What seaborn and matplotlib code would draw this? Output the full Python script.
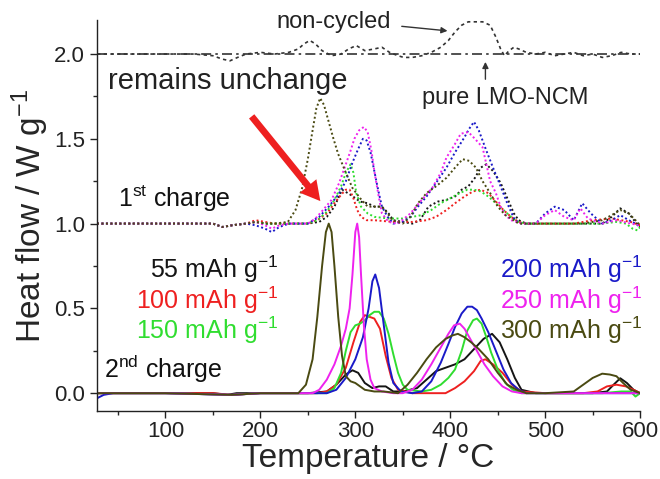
import numpy as np
import pandas as pd
import matplotlib
matplotlib.use("Agg")
import matplotlib.pyplot as plt
from matplotlib.ticker import MultipleLocator, FormatStrFormatter
import seaborn as sns

# ---------------- data ----------------
# 2nd charge (solid lines, baseline 0)
black2_T = [28, 60, 100, 150, 165, 175, 200, 250, 270, 280, 290, 297, 303, 310, 318, 325, 332, 340, 350, 365, 375, 385, 395, 405, 415, 425, 435, 444, 452, 460, 468, 475, 490, 520, 550, 565, 572, 579, 586, 593, 600]
black2_V = [0, 0, 0, 0, -0.01, 0, 0, 0, 0.01, 0.05, 0.11, 0.135, 0.12, 0.06, 0.03, 0.04, 0.04, 0.01, 0.01, 0.03, 0.08, 0.13, 0.15, 0.17, 0.2, 0.26, 0.32, 0.35, 0.3, 0.2, 0.09, 0.02, 0, 0, 0, 0.01, 0.05, 0.088, 0.06, 0.02, 0]

red2_T = [28, 100, 150, 170, 200, 260, 270, 280, 290, 298, 305, 310, 315, 320, 326, 332, 338, 345, 360, 380, 395, 405, 415, 425, 432, 437, 445, 455, 465, 475, 500, 540, 555, 565, 575, 585, 593, 600]
red2_V = [0, 0, 0, -0.01, 0, 0, 0.01, 0.05, 0.15, 0.3, 0.42, 0.46, 0.45, 0.44, 0.38, 0.22, 0.09, 0.02, 0, 0, 0, 0.03, 0.07, 0.13, 0.19, 0.2, 0.17, 0.12, 0.05, 0.01, 0, 0, 0.01, 0.04, 0.05, 0.04, 0.02, 0]

green2_T = [28, 100, 170, 200, 270, 278, 285, 290, 295, 300, 305, 310, 315, 320, 325, 330, 335, 340, 345, 350, 355, 370, 380, 390, 398, 405, 412, 418, 424, 428, 433, 438, 443, 450, 458, 466, 475, 500, 560, 580, 590, 595, 600]
green2_V = [0, 0, -0.01, 0, 0, 0.03, 0.12, 0.25, 0.36, 0.40, 0.41, 0.43, 0.46, 0.48, 0.48, 0.44, 0.35, 0.23, 0.12, 0.05, 0.02, 0.01, 0.02, 0.05, 0.09, 0.14, 0.25, 0.37, 0.43, 0.44, 0.41, 0.33, 0.24, 0.14, 0.06, 0.02, 0, 0, 0, 0.01, 0.01, -0.02, 0]

blue2_T = [28, 35, 45, 100, 170, 200, 270, 280, 290, 300, 308, 314, 318, 321, 325, 330, 335, 340, 348, 360, 370, 380, 390, 398, 405, 412, 418, 423, 428, 433, 440, 448, 456, 464, 472, 480, 500, 600]
blue2_V = [-0.03, -0.01, 0, 0, -0.01, 0, 0, 0.02, 0.09, 0.2, 0.33, 0.5, 0.66, 0.70, 0.62, 0.4, 0.18, 0.06, 0.01, 0, 0.01, 0.07, 0.18, 0.29, 0.39, 0.47, 0.51, 0.51, 0.49, 0.44, 0.36, 0.25, 0.14, 0.06, 0.02, 0, 0, 0]

magenta2_T = [28, 100, 170, 200, 255, 262, 270, 278, 285, 290, 294, 297, 300, 302, 304, 306, 309, 312, 316, 320, 328, 340, 350, 360, 370, 380, 390, 398, 404, 410, 415, 420, 428, 436, 445, 455, 465, 475, 500, 600]
magenta2_V = [0, 0, -0.01, 0, 0, 0.02, 0.08, 0.17, 0.28, 0.38, 0.5, 0.7, 0.95, 1.0, 0.92, 0.7, 0.4, 0.2, 0.08, 0.03, 0.01, 0, 0, 0.02, 0.08, 0.17, 0.27, 0.35, 0.4, 0.41, 0.38, 0.33, 0.25, 0.17, 0.1, 0.04, 0.01, 0, 0, 0]

olive2_T = [28, 100, 170, 200, 240, 248, 255, 260, 265, 269, 272, 275, 278, 282, 286, 290, 295, 300, 305, 310, 320, 330, 345, 355, 365, 375, 385, 395, 402, 408, 415, 422, 430, 440, 450, 460, 470, 480, 500, 530, 540, 550, 560, 568, 575, 582, 590, 600]
olive2_V = [0, 0, -0.01, 0, 0, 0.05, 0.2, 0.45, 0.75, 0.95, 1.0, 0.95, 0.75, 0.45, 0.22, 0.1, 0.07, 0.06, 0.04, 0.02, 0.01, 0.01, 0, 0.05, 0.12, 0.2, 0.27, 0.32, 0.34, 0.35, 0.33, 0.3, 0.26, 0.2, 0.12, 0.05, 0.02, 0, 0, 0.01, 0.05, 0.09, 0.115, 0.11, 0.1, 0.06, 0.02, 0]

# 1st charge (dotted lines, baseline 1)
black1_T = [28, 100, 150, 160, 170, 185, 195, 205, 215, 230, 250, 262, 270, 278, 286, 295, 305, 313, 320, 328, 335, 340, 350, 360, 368, 377, 387, 396, 405, 412, 419, 426, 432, 438, 445, 453, 460, 467, 472, 480, 500, 520, 540, 560, 570, 579, 588, 595, 600]
black1_V = [1, 1, 1, 0.98, 0.99, 1.0, 1.01, 1.0, 1.0, 1.0, 1.0, 1.01, 1.04, 1.1, 1.2, 1.17, 1.13, 1.12, 1.1, 1.1, 1.06, 1.02, 1.01, 1.0, 1.02, 1.1, 1.13, 1.14, 1.16, 1.2, 1.22, 1.27, 1.33, 1.35, 1.31, 1.24, 1.15, 1.06, 1.02, 1.0, 1.0, 1.0, 1.0, 1.0, 1.04, 1.09, 1.06, 1.01, 0.98]

red1_T = [28, 100, 150, 160, 170, 185, 195, 205, 215, 230, 250, 260, 270, 278, 285, 290, 294, 298, 302, 306, 312, 320, 340, 360, 375, 385, 396, 405, 415, 424, 432, 440, 448, 456, 464, 472, 480, 500, 530, 550, 570, 590, 600]
red1_V = [1, 1, 1, 0.98, 0.99, 1.0, 1.02, 1.01, 1.0, 1.0, 1.0, 1.02, 1.06, 1.12, 1.17, 1.2, 1.2, 1.15, 1.08, 1.04, 1.02, 1.02, 1.01, 1.01, 1.02, 1.04, 1.08, 1.12, 1.16, 1.19, 1.2, 1.18, 1.13, 1.08, 1.04, 1.01, 1.0, 1.0, 1.0, 1.02, 1.03, 1.01, 0.99]

green1_T = [28, 100, 150, 160, 170, 185, 195, 205, 215, 230, 250, 260, 270, 278, 285, 290, 295, 298, 301, 306, 313, 320, 335, 350, 360, 370, 380, 390, 400, 410, 418, 425, 432, 440, 448, 456, 464, 472, 480, 500, 530, 560, 575, 585, 592, 597, 600]
green1_V = [1, 1, 1, 0.98, 0.99, 1.0, 1.01, 1.0, 1.0, 1.0, 1.0, 1.02, 1.07, 1.14, 1.22, 1.3, 1.35, 1.3, 1.18, 1.1, 1.06, 1.04, 1.03, 1.03, 1.04, 1.05, 1.08, 1.12, 1.15, 1.18, 1.2, 1.2, 1.19, 1.16, 1.12, 1.08, 1.04, 1.01, 1.0, 1.0, 1.0, 1.0, 1.01, 1.0, 0.97, 0.96, 0.98]

blue1_T = [28, 100, 150, 160, 170, 185, 195, 205, 212, 220, 230, 250, 262, 272, 282, 290, 297, 303, 308, 312, 316, 320, 324, 328, 334, 340, 350, 358, 366, 375, 385, 396, 405, 415, 420, 425, 430, 438, 445, 453, 460, 468, 475, 490, 500, 510, 520, 530, 539, 548, 560, 570, 579, 588, 595, 600]
blue1_V = [1, 1, 1, 0.98, 0.99, 1.0, 0.99, 0.97, 0.95, 0.98, 1.0, 1.0, 1.04, 1.1, 1.17, 1.25, 1.36, 1.44, 1.5, 1.49, 1.42, 1.31, 1.2, 1.1, 1.04, 1.0, 1.01, 1.04, 1.1, 1.16, 1.24, 1.33, 1.42, 1.51, 1.56, 1.6, 1.55, 1.43, 1.33, 1.22, 1.12, 1.02, 1.0, 1.0, 1.06, 1.1, 1.08, 1.02, 1.12, 1.06, 1.0, 1.02, 1.05, 1.02, 1.0, 0.98]

magenta1_T = [28, 100, 150, 160, 170, 185, 195, 205, 212, 220, 230, 250, 258, 266, 275, 283, 290, 295, 299, 304, 309, 313, 317, 320, 324, 328, 335, 345, 358, 370, 381, 390, 396, 404, 411, 419, 426, 434, 442, 448, 453, 458, 464, 475, 490, 500, 510, 520, 530, 537, 545, 560, 575, 590, 600]
magenta1_V = [1, 1, 1, 0.98, 0.99, 1.0, 1.01, 0.99, 0.97, 0.99, 1.0, 1.0, 1.03, 1.08, 1.14, 1.24, 1.35, 1.43, 1.5, 1.55, 1.57, 1.54, 1.43, 1.31, 1.18, 1.06, 1.01, 1.0, 1.06, 1.14, 1.21, 1.3, 1.39, 1.46, 1.53, 1.54, 1.5, 1.45, 1.25, 1.18, 1.1, 1.05, 1.02, 1.0, 1.0, 1.05, 1.08, 1.04, 1.02, 1.09, 1.03, 1.0, 1.02, 1.0, 0.99]

olive1_T = [28, 100, 150, 160, 170, 185, 195, 205, 215, 229, 237, 244, 250, 255, 259, 263, 267, 272, 277, 282, 290, 297, 305, 313, 320, 328, 334, 339, 350, 358, 366, 375, 385, 396, 405, 413, 420, 427, 434, 442, 450, 458, 464, 472, 480, 500, 540, 560, 570, 579, 588, 595, 600]
olive1_V = [1, 1, 1, 0.98, 0.99, 1.0, 1.01, 1.0, 1.0, 1.01, 1.08, 1.21, 1.38, 1.55, 1.68, 1.74, 1.7, 1.6, 1.5, 1.41, 1.3, 1.21, 1.15, 1.1, 1.1, 1.1, 1.06, 1.02, 1.0, 1.04, 1.12, 1.18, 1.22, 1.27, 1.33, 1.38, 1.37, 1.33, 1.25, 1.18, 1.1, 1.05, 1.03, 1.0, 1.0, 1.0, 1.0, 1.02, 1.05, 1.08, 1.06, 1.02, 0.99]

# top references (baseline 2)
noncyc_T = [28, 60, 100, 130, 150, 160, 168, 176, 185, 200, 215, 230, 240, 246, 252, 258, 265, 275, 285, 293, 301, 310, 320, 328, 336, 345, 351, 360, 370, 380, 390, 398, 405, 412, 419, 426, 434, 442, 448, 453, 457, 462, 467, 472, 480, 490, 500, 510, 520, 530, 540, 550, 560, 570, 580, 590, 600]
noncyc_V = [2.0, 2.0, 2.0, 2.0, 1.99, 1.97, 1.96, 1.98, 2.0, 2.01, 2.0, 2.01, 2.03, 2.06, 2.08, 2.06, 2.02, 1.99, 2.0, 2.03, 2.05, 2.02, 2.03, 2.04, 2.01, 1.99, 1.98, 1.98, 1.99, 2.01, 2.04, 2.08, 2.13, 2.17, 2.19, 2.19, 2.19, 2.17, 2.1, 2.03, 1.99, 2.02, 2.04, 2.03, 2.01, 2.0, 2.01, 1.99, 2.0, 2.01, 1.99, 2.0, 1.98, 1.99, 2.01, 2.0, 2.0]

pure_T = [28, 100, 200, 300, 400, 500, 600]
pure_V = [2.0, 2.0, 2.0, 2.0, 2.0, 2.0, 2.0]

capacity_labels = ["55", "100", "150", "200", "250", "300"]
series_colors = ["#151515", "#ee2020", "#30dd30", "#1a1ac8", "#ee22ee", "#4a4a12"]

first = [(black1_T, black1_V), (red1_T, red1_V), (green1_T, green1_V),
         (blue1_T, blue1_V), (magenta1_T, magenta1_V), (olive1_T, olive1_V)]
second = [(black2_T, black2_V), (red2_T, red2_V), (green2_T, green2_V),
          (blue2_T, blue2_V), (magenta2_T, magenta2_V), (olive2_T, olive2_V)]

x_ticks = [100, 200, 300, 400, 500, 600]
y_ticks = [0.0, 0.5, 1.0, 1.5, 2.0]

# ---------------- style ----------------
sns.set_style("ticks")
plt.rcParams["font.family"] = ["Liberation Sans", "DejaVu Sans"]
plt.rcParams["mathtext.fontset"] = "custom"
plt.rcParams["mathtext.rm"] = "Liberation Sans"
plt.rcParams["mathtext.it"] = "Liberation Sans:italic"
plt.rcParams["mathtext.bf"] = "Liberation Sans:bold"

fig = plt.figure(figsize=(6.6, 4.79), dpi=100)
ax = fig.add_axes([0.147, 0.142, 0.823, 0.816])

for (T, V), c in zip(first, series_colors):
    sns.lineplot(x=T, y=V, ax=ax, color=c, linestyle=(0, (1, 1.3)), linewidth=1.4,
                 estimator=None, sort=False)
for (T, V), c in zip(second, series_colors):
    sns.lineplot(x=T, y=V, ax=ax, color=c, linestyle="-", linewidth=1.4,
                 estimator=None, sort=False)

sns.lineplot(x=noncyc_T, y=noncyc_V, ax=ax, color="#333333", linestyle=(0, (2, 2)),
             linewidth=1.2, estimator=None, sort=False)
sns.lineplot(x=pure_T, y=pure_V, ax=ax, color="#333333", linestyle=(0, (6, 2.5, 1.5, 2.5)),
             linewidth=1.2, estimator=None, sort=False)

ax.set_xlim(28, 600)
ax.set_ylim(-0.105, 2.2)
ax.set_xticks(x_ticks)
ax.set_yticks(y_ticks)
ax.xaxis.set_minor_locator(MultipleLocator(50))
ax.yaxis.set_minor_locator(MultipleLocator(0.25))
ax.yaxis.set_major_formatter(FormatStrFormatter("%.1f"))
ax.tick_params(which="major", length=5, width=1, labelsize=16, colors="#222222")
ax.tick_params(axis="x", which="major", pad=2)
ax.tick_params(which="minor", length=3, width=1)
sns.despine(ax=ax)
for s in ["left", "bottom"]:
    ax.spines[s].set_color("#222222")
    ax.spines[s].set_linewidth(1.0)

ax.set_xlabel("Temperature / °C", fontsize=24, labelpad=1)
ax.set_ylabel(r"Heat flow / W g$^{\mathregular{-1}}$", fontsize=24, labelpad=2)

# annotations
ax.text(277, 2.19, "non-cycled", fontsize=17, ha="center", va="center", color="#222222")
ax.annotate("", xy=(400, 2.135), xytext=(346, 2.165),
            arrowprops=dict(arrowstyle="-|>", color="#333333", lw=1.0, mutation_scale=9))
ax.text(458, 1.74, "pure LMO-NCM", fontsize=17, ha="center", va="center", color="#222222")
ax.annotate("", xy=(437, 1.97), xytext=(437, 1.835),
            arrowprops=dict(arrowstyle="-|>", color="#333333", lw=1.0, mutation_scale=9))
ax.text(40, 1.84, "remains unchange", fontsize=21, ha="left", va="center", color="#222222")
ax.annotate("", xy=(265, 1.12), xytext=(189, 1.645),
            arrowprops=dict(arrowstyle="simple,head_length=1.0,head_width=1.1,tail_width=0.35",
                            color="#ee2020", lw=0, mutation_scale=14))
ax.text(50, 1.15, r"1$^{\mathregular{st}}$ charge", fontsize=18, ha="left", va="center", color="#111111")
ax.text(35, 0.14, r"2$^{\mathregular{nd}}$ charge", fontsize=18, ha="left", va="center", color="#111111")

label_rows = [0.73, 0.55, 0.37]
for i, (lab, c) in enumerate(zip(capacity_labels, series_colors)):
    x = 219 if i < 3 else 602
    ax.text(x, label_rows[i % 3], lab + r" mAh g$^{\mathregular{-1}}$", fontsize=18,
            ha="right", va="center", color=c)

fig.savefig("out.png", dpi=100)
